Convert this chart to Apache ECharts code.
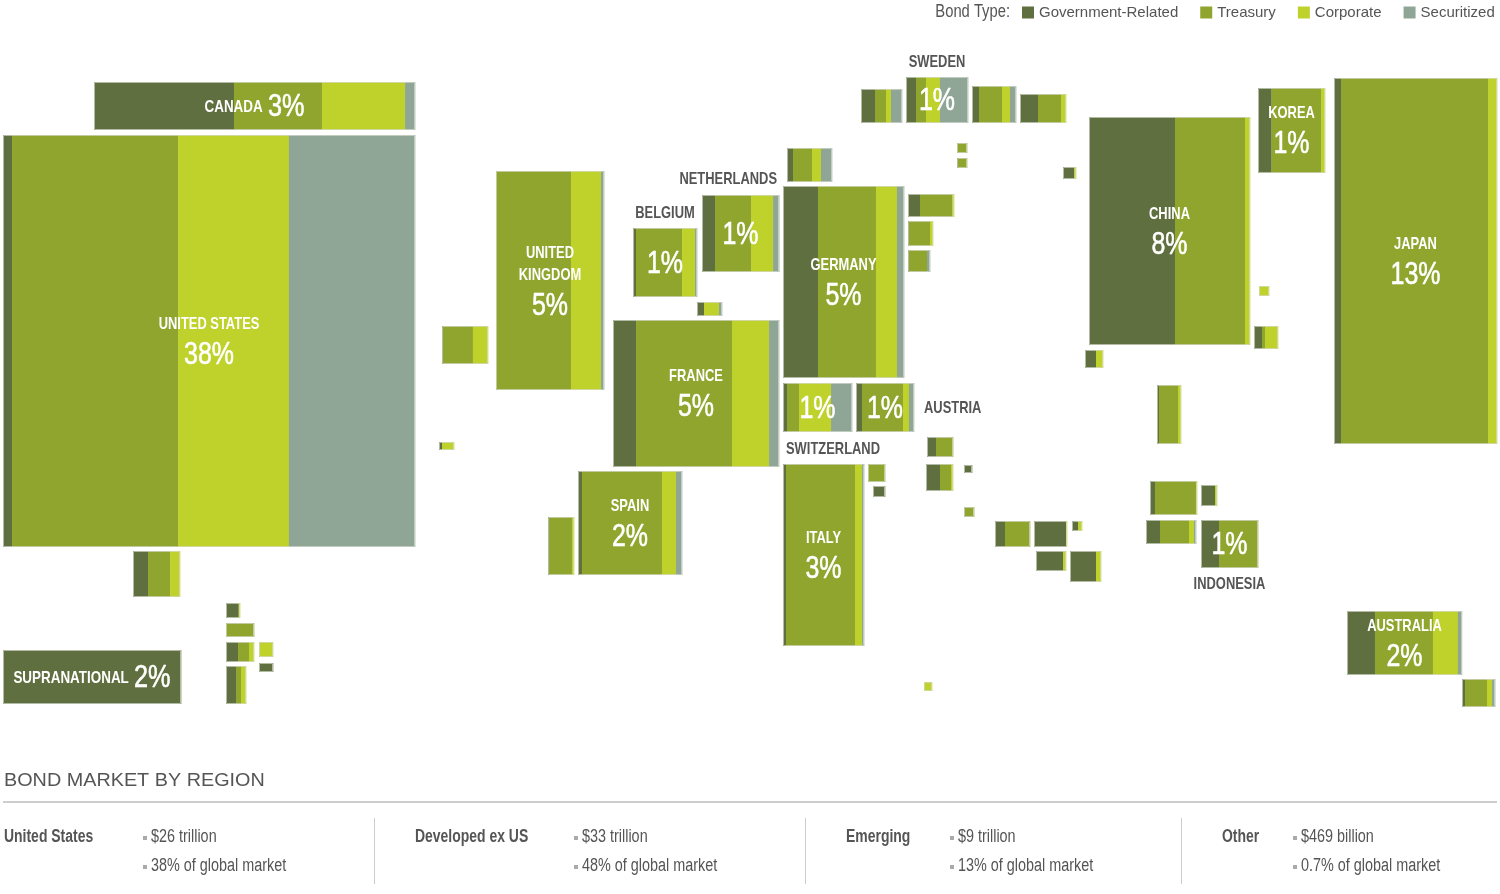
<!DOCTYPE html>
<html><head><meta charset="utf-8">
<script src="https://cdn.jsdelivr.net/npm/echarts@6.0.0/dist/echarts.min.js"></script>
<style>html,body{margin:0;padding:0;background:#fff}#c{width:1500px;height:894px}</style>
</head><body><div id="c"></div>
<script>
// ---- Data ----
const bondTypes  = ['Government-Related','Treasury','Corporate','Securitized'];
// Cartogram grid cells (map units) for each market
const boxX = [94,3,133,226,226,226,259,259,226,3,442,439,496,633,702,697,613,578,548,783,787,861,906,972,1020,957,957,1063,908,908,908,783,856,783,868,873,927,926,964,964,995,1034,1072,1036,1070,924,1089,1258,1334,1259,1254,1085,1157,1150,1201,1146,1201,1347,1462];
const boxY = [82,135,551,603,623,642,642,663,666,650,326,442,171,228,195,302,320,471,517,186,148,89,77,86,94,143,158,167,194,221,250,383,383,464,464,486,437,464,465,507,521,521,521,551,551,682,117,88,78,286,326,350,385,481,485,520,520,611,679];
const boxW = [321,412,47,14,28,28,14,14,20,178,46,15,108,64,77,25,166,104,26,121,45,41,62,44,46,10,10,13,46,25,22,69,58,81,17,12,26,27,8,10,35,33,10,30,31,8,161,67,163,10,24,18,24,47,16,50,57,115,33];
const boxH = [48,412,46,15,14,20,15,9,38,54,38,8,219,69,77,14,147,104,58,192,34,34,46,37,29,10,10,12,23,25,22,49,49,182,18,11,20,27,8,10,26,26,10,20,31,9,228,85,366,10,23,18,59,34,21,24,48,64,28];
// Share of each market by bond type (%)
const govShare  = [43.6,2.2,32,90,0,43,0,100,50,100,2,20,0,4.7,16.9,28,13.9,3.8,4,28.9,13.3,34.1,16.1,15.9,39.1,0,10,85,26,4,4.5,5.8,10.3,3.7,0,100,34.6,51.9,100,0,28.6,97,60,90,83.9,0,53.4,20,4.3,0,33.3,61,8.3,10.6,87.5,28,31.6,24.3,9.1];
const tsyShare  = [27.4,40.3,47,0,100,39,0,0,25,0,65,0,69.4,71.9,46.8,0,57.8,76.9,88,47.9,42.2,26.8,16.1,52.3,50,100,90,0,70,84,81.8,17.4,70.7,85.2,100,0,65.4,40.7,0,100,71.4,0,0,0,0,0,43.5,74.3,90.2,0,12.5,0,79.2,87.2,0,58,68.4,50.4,66.7];
const corpShare = [25.9,26.9,21,10,0,18,100,0,25,0,33,80,27.8,20.3,28.6,60,22.3,13.5,8,17.4,20,12.2,22.6,18.2,10.9,0,0,15,4,12,0,46.4,10.3,8.6,0,0,0,7.4,0,0,0,3,40,10,16.1,100,3.1,5.7,5.5,100,54.2,39,12.5,2.2,12.5,10,0,21.7,15.2];
const secShare  = [3.1,30.6,0,0,0,0,0,0,0,0,0,0,2.8,3.1,7.8,12,6.0,5.8,0,5.8,24.4,26.8,45.2,13.6,0,0,0,0,0,0,13.6,30.4,8.6,2.5,0,0,0,0,0,0,0,0,0,0,0,0,0,0,0,0,0,0,0,0,0,4,0,3.5,9.1];
// Labels
const labelBox   = [0,1,9,12,13,14,16,17,19,22,31,32,33,46,47,48,56,57];
const labelName  = ['CANADA','UNITED STATES','SUPRANATIONAL','UNITED\nKINGDOM','BELGIUM','NETHERLANDS','FRANCE','SPAIN','GERMANY','SWEDEN','SWITZERLAND','AUSTRIA','ITALY','CHINA','KOREA','JAPAN','INDONESIA','AUSTRALIA'];
const labelPct   = ['3%','38%','2%','5%','1%','1%','5%','2%','5%','1%','1%','1%','3%','8%','1%','13%','1%','2%'];
const labelPlace = ['inline','inside','inline','inside','above','aboveRight','inside','inside','inside','above','belowLeft','right','inside','inside','inside','inside','below','inside'];
// Region summary
const regionNames  = ['United States','Developed ex US','Emerging','Other'];
const regionValues = ['$26 trillion','$33 trillion','$9 trillion','$469 billion'];
const regionShares = ['38% of global market','48% of global market','13% of global market','0.7% of global market'];

// ---- Style ----
const COLORS = ['#606f3f','#8fa52e','#bfd12b','#8fa696'];
const FONT = "'Liberation Sans', Arial, sans-serif";
const TEXT = '#555555';
const NAME_SX = 0.76, PCT_SX = 0.78;

const shares = [govShare, tsyShare, corpShare, secShare];

function segSeries(k) {
  const data = boxX.map((x, i) => {
    let start = 0;
    for (let j = 0; j < k; j++) start += shares[j][i];
    return [x, boxY[i], boxW[i], boxH[i], start, shares[k][i]];
  });
  return {
    name: bondTypes[k], type: 'custom', coordinateSystem: 'cartesian2d',
    itemStyle: { color: COLORS[k] },
    silent: true, animation: false,
    encode: { x: 0, y: 1 },
    data: data,
    renderItem: function (params, api) {
      const x = api.value(0), y = api.value(1), w = api.value(2), h = api.value(3);
      const st = api.value(4), sh = api.value(5);
      if (!sh) return null;
      const p = api.coord([x + w * st / 100, y]);
      const s = api.size([w * sh / 100, h]);
      return { type: 'rect', shape: { x: p[0], y: p[1], width: s[0] + 0.3, height: s[1] },
        style: { fill: COLORS[k] } };
    }
  };
}

const outlineSeries = {
  type: 'custom', coordinateSystem: 'cartesian2d', silent: true, animation: false, z: 3,
  encode: { x: 0, y: 1 },
  data: boxX.map((x, i) => [x, boxY[i], boxW[i], boxH[i]]),
  renderItem: function (params, api) {
    const p = api.coord([api.value(0), api.value(1)]);
    const s = api.size([api.value(2), api.value(3)]);
    return { type: 'rect', shape: { x: p[0] + 0.5, y: p[1] + 0.5, width: s[0] - 1, height: s[1] - 1 },
      style: { fill: null, stroke: 'rgba(215,220,208,0.7)', lineWidth: 1 } };
  }
};

function nameStyle(fill) { return { fill: fill, fontFamily: FONT, fontWeight: 'bold', fontSize: 17 }; }
function pctStyle() { return { fill: '#fff', fontFamily: FONT, fontSize: 32, stroke: '#fff', lineWidth: 0.6 }; }

const labelSeries = {
  type: 'custom', coordinateSystem: 'cartesian2d', silent: true, animation: false, z: 5,
  encode: { x: 0, y: 1 },
  data: labelBox.map((b, i) => [boxX[b], boxY[b], boxW[b], boxH[b], i]),
  renderItem: function (params, api) {
    const p = api.coord([api.value(0), api.value(1)]);
    const s = api.size([api.value(2), api.value(3)]);
    const i = api.value(4);
    const cx = p[0] + s[0] / 2, cy = p[1] + s[1] / 2;
    const place = labelPlace[i];
    const name = labelName[i], pct = labelPct[i];
    const kids = [];
    const txt = (x, y, text, st, sx, al) => kids.push({ type: 'text', x: x, y: y, scaleX: sx,
      style: Object.assign({ text: text, align: al || 'center', verticalAlign: 'middle' }, st) });
    if (place === 'inline') {
      kids.push({ type: 'text', x: cx, y: cy + 1, scaleX: 0.79, style: {
        text: '{n|' + name + '}  {p|' + pct + '}', align: 'center', verticalAlign: 'middle',
        rich: { n: nameStyle('#fff'), p: pctStyle() } } });
    } else if (place === 'inside') {
      const lines = name.split('\n');
      const pctY = cy + 14 + (lines.length - 1) * 11.5;
      txt(cx, pctY, pct, pctStyle(), PCT_SX);
      lines.forEach((ln, j) => {
        txt(cx, pctY - 31 - (lines.length - 1 - j) * 22, ln, nameStyle('#fff'), NAME_SX);
      });
    } else {
      txt(cx, cy + 1.5, pct, pctStyle(), PCT_SX);
      let nx = cx, ny = p[1] - 15, al = 'center';
      if (place === 'aboveRight') { nx = p[0] + s[0] - 2; ny = p[1] - 16; al = 'right'; }
      if (place === 'belowLeft') { nx = p[0] + 3; ny = p[1] + s[1] + 17; al = 'left'; }
      if (place === 'right') { nx = p[0] + s[0] + 10; ny = cy + 1; al = 'left'; }
      if (place === 'below') { ny = p[1] + s[1] + 16; }
      txt(nx, ny, name, nameStyle(TEXT), NAME_SX, al);
    }
    return { type: 'group', children: kids };
  }
};

// Header text + bottom region panel
const graphics = [
  { type: 'text', x: 1010, y: 12, scaleX: 0.82, style: { text: 'Bond Type:', fill: TEXT, fontFamily: FONT, fontSize: 18, align: 'right', verticalAlign: 'middle' } },
  { type: 'text', x: 4, y: 781, scaleX: 1.1, style: { text: 'BOND MARKET BY REGION', fill: TEXT, fontFamily: FONT, fontSize: 18, align: 'left', verticalAlign: 'middle' } },
  { type: 'line', shape: { x1: 3, y1: 802, x2: 1497, y2: 802 }, style: { stroke: '#bdbdbd', lineWidth: 1.5 } }
];
const nameX = [4, 415, 846, 1222], bulletX = [143, 574, 950, 1293], dividerX = [374, 805, 1181];
dividerX.forEach(x => graphics.push({ type: 'line', shape: { x1: x + 0.5, y1: 818, x2: x + 0.5, y2: 884 }, style: { stroke: '#cccccc', lineWidth: 1 } }));
regionNames.forEach((n, i) => {
  graphics.push({ type: 'text', x: nameX[i], y: 837, scaleX: 0.775, style: { text: n, fill: TEXT, fontFamily: FONT, fontWeight: 'bold', fontSize: 18, align: 'left', verticalAlign: 'middle' } });
  [regionValues[i], regionShares[i]].forEach((t, j) => {
    const yy = 837 + j * 29;
    graphics.push({ type: 'rect', shape: { x: bulletX[i], y: yy - 1, width: 4, height: 4 }, style: { fill: '#aaaaaa' } });
    graphics.push({ type: 'text', x: bulletX[i] + 8, y: yy, scaleX: 0.8, style: { text: t, fill: TEXT, fontFamily: FONT, fontSize: 18, align: 'left', verticalAlign: 'middle' } });
  });
});

const chart = echarts.init(document.getElementById('c'), null, { renderer: 'canvas' });
chart.setOption({
  animation: false,
  backgroundColor: '#fff',
  grid: { left: 0, right: 0, top: 0, bottom: 0 },
  xAxis: { type: 'value', min: 0, max: 1500, show: false },
  yAxis: { type: 'value', min: 0, max: 894, inverse: true, show: false },
  legend: {
    data: bondTypes, left: 1022, top: 5, icon: 'rect', itemWidth: 12, itemHeight: 12, itemGap: 22,
    padding: 0, selectedMode: false,
    textStyle: { color: TEXT, fontFamily: FONT, fontSize: 15 }
  },
  graphic: graphics,
  series: [segSeries(0), segSeries(1), segSeries(2), segSeries(3), outlineSeries, labelSeries]
});
</script></body></html>
